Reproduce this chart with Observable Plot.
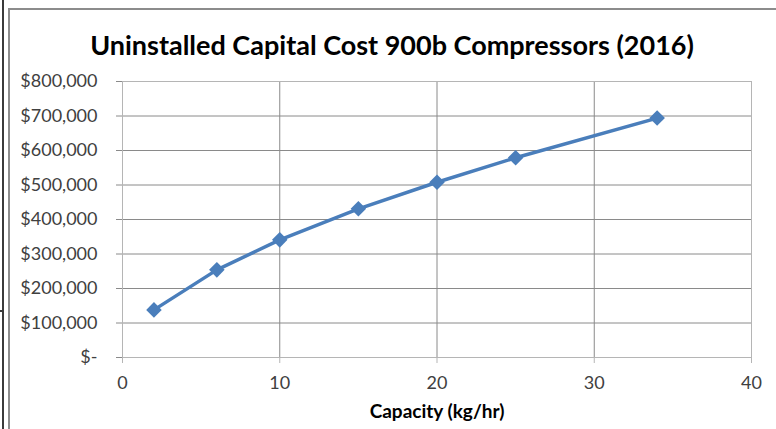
<!DOCTYPE html>
<html>
<head>
<meta charset="utf-8">
<script src="https://cdn.jsdelivr.net/npm/d3@7"></script>
<script src="https://cdn.jsdelivr.net/npm/@observablehq/plot@0.6"></script>
<style>
  html, body { margin: 0; padding: 0; background: #fff; }
  #chart { position: relative; width: 776px; height: 429px; overflow: hidden; background: #fff; font-family: Lato, "Open Sans", sans-serif; }
  .edge { position: absolute; }
  #title { position: absolute; left: 8px; right: 0; top: 26px; text-align: center; font-weight: bold; font-size: 27px; color: #000; line-height: 38px; }
  #plot { position: absolute; left: 0; top: 70px; }
</style>
</head>
<body>
<div id="chart">
  <!-- window frame and chart border -->
  <div class="edge" style="left:2px; top:0; width:2px; height:429px; background:#3a3a3a;"></div>
  <div class="edge" style="left:0; top:310px; width:3px; height:2px; background:#3a3a3a;"></div>
  <div class="edge" style="left:8px; top:8px; width:768px; height:2px; background:#8c8c8c;"></div>
  <div class="edge" style="left:8px; top:8px; width:2px; height:421px; background:#8c8c8c;"></div>
  <div id="title">Uninstalled Capital Cost 900b Compressors (2016)</div>
  <div id="plot"></div>
</div>
<script>
// Compressor capacity (kg/hr) and uninstalled capital cost (USD, 2016)
const capacity = [2, 6, 10, 15, 20, 25, 34];
const cost = [138000, 254000, 341000, 431000, 508000, 579000, 694000];

// Axis ticks
const xTicks = [0, 10, 20, 30, 40];
const yTicks = [0, 100000, 200000, 300000, 400000, 500000, 600000, 700000, 800000];
const xLabel = "Capacity (kg/hr)";

const rows = capacity.map((c, i) => ({capacity: c, cost: cost[i]}));
const money = d => d === 0 ? "$-" : "$" + d3.format(",")(d);

const gridColor = "#8a8a8a";
const edgeColor = "#b5b5b5";
const lineColor = "#4a7ebb";

const chart = Plot.plot({
  width: 776,
  height: 359,
  marginTop: 11,
  marginBottom: 72,
  marginLeft: 122,
  marginRight: 25,
  x: {domain: [0, 40]},
  y: {domain: [0, 800000]},
  style: {fontFamily: "Lato, 'Open Sans', sans-serif", fontSize: "18px", color: "#404040", background: "transparent"},
  marks: [
    Plot.gridX(xTicks.slice(1, -1), {stroke: gridColor, strokeOpacity: 1}),
    Plot.gridY(yTicks.slice(1, -1), {stroke: gridColor, strokeOpacity: 1}),
    Plot.ruleX([40], {stroke: edgeColor}),
    Plot.ruleY([800000], {stroke: edgeColor}),
    Plot.ruleX([0], {stroke: edgeColor}),
    Plot.ruleY([0], {stroke: edgeColor}),
    Plot.axisX(xTicks, {tickSize: 6, tickPadding: 13, stroke: edgeColor, label: null, fill: "#404040"}),
    Plot.axisY(yTicks, {tickSize: 6, tickPadding: 19, tickFormat: money, stroke: gridColor, label: null, fill: "#404040"}),
    Plot.line(rows, {x: "capacity", y: "cost", stroke: lineColor, strokeWidth: 3.5}),
    Plot.dot(rows, {x: "capacity", y: "cost", symbol: "diamond2", r: 7, fill: lineColor, stroke: "none"}),
    Plot.text([xLabel], {frameAnchor: "bottom", dy: 60, fontWeight: "bold", fontSize: 19, fill: "#000"})
  ]
});
document.getElementById("plot").appendChild(chart);
</script>
</body>
</html>
